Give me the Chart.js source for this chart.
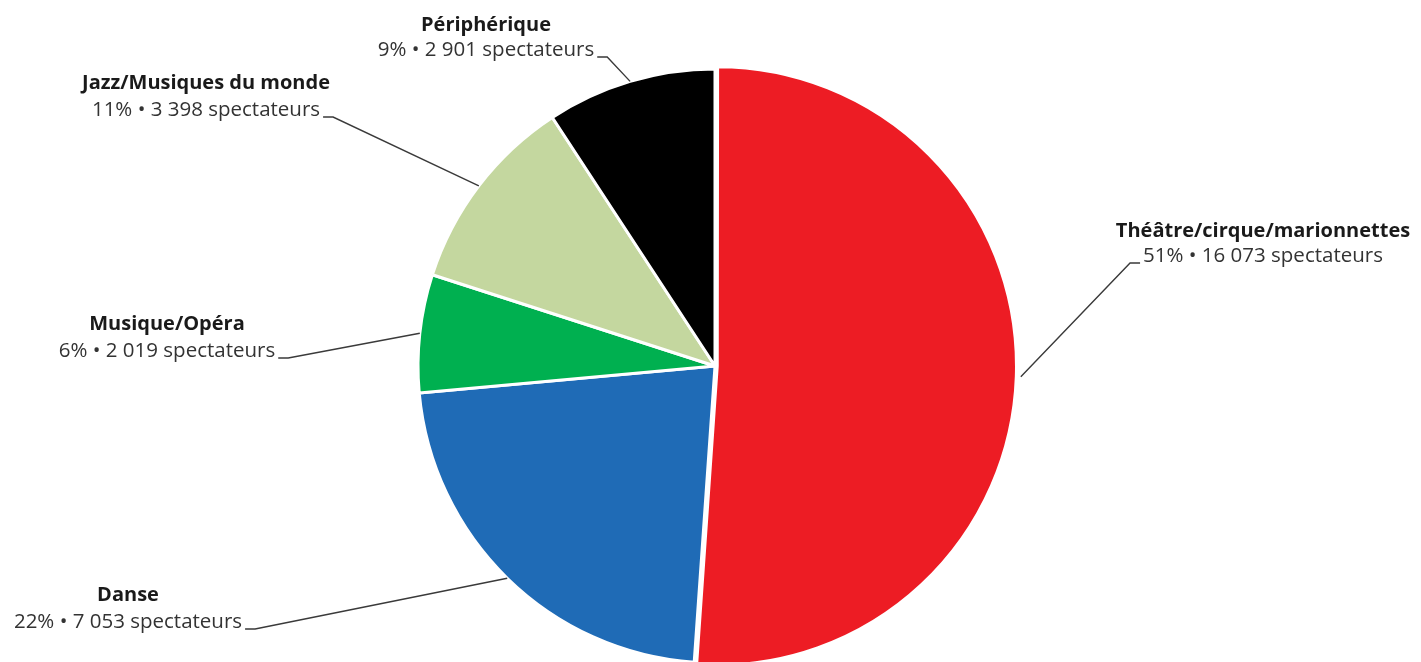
<!DOCTYPE html>
<html lang="fr">
<head>
<meta charset="utf-8">
<script src="https://cdn.jsdelivr.net/npm/chart.js@4.4.1/dist/chart.umd.min.js"></script>
<style>
  html, body { margin: 0; padding: 0; background: #fff; overflow: hidden; }
  #wrap { position: relative; width: 1430px; height: 732px; }
</style>
</head>
<body>
<div id="wrap"><canvas id="chart"></canvas></div>
<script>
// Spectateurs par discipline
const categories = ['Théâtre/cirque/marionnettes', 'Danse', 'Musique/Opéra', 'Jazz/Musiques du monde', 'Périphérique']
const spectateurs = [16073, 7053, 2019, 3398, 2901]
const couleurs = ['#ed1c24', '#1f6bb6', '#00b050', '#c4d79f', '#000000']

// label blocks: centre x, title y, value line y, which end of the value line the leader leaves from
const etiquettes = [
  { x: 1263, y1: 231, y2: 256, end: 'left' },
  { x: 128, y1: 595, y2: 622, end: 'right' },
  { x: 167, y1: 324, y2: 351, end: 'right' },
  { x: 206, y1: 83, y2: 110, end: 'right' },
  { x: 486, y1: 25, y2: 50, end: 'right' },
]

const total = spectateurs.reduce((a, b) => a + b, 0)
const milliers = n => String(n).replace(/\B(?=(\d{3})+(?!\d))/g, ' ')

const FONT = '"Open Sans", "Noto Sans", sans-serif'

const etiquettesPlugin = {
  id: 'etiquettes',
  afterDraw(chart) {
    const ctx = chart.ctx
    const arcs = chart.getDatasetMeta(0).data
    ctx.save()
    ctx.textAlign = 'center'
    ctx.textBaseline = 'middle'
    arcs.forEach((arc, i) => {
      const e = etiquettes[i]
      const { x, y, startAngle, endAngle, outerRadius } = arc.getProps(['x', 'y', 'startAngle', 'endAngle', 'outerRadius'], true)
      const mid = (startAngle + endAngle) / 2
      const off = arc.options.offset || 0
      const ax = x + Math.cos(mid) * (outerRadius + off)
      const ay = y + Math.sin(mid) * (outerRadius + off)

      const pct = Math.round(spectateurs[i] / total * 100)
      const ligne = pct + '% \u2022 ' + milliers(spectateurs[i]) + ' spectateurs'

      ctx.fillStyle = '#1a1a1a'
      ctx.font = 'bold 20px ' + FONT
      ctx.fillText(categories[i], e.x, e.y1)
      ctx.fillStyle = '#333'
      ctx.font = '20.5px ' + FONT
      ctx.fillText(ligne, e.x, e.y2)

      const w = ctx.measureText(ligne).width
      const dir = e.end === 'right' ? 1 : -1
      const sx = e.x + dir * (w / 2 + 3)
      const sy = e.y2 + 7
      ctx.strokeStyle = '#3a3a3a'
      ctx.lineWidth = 1.4
      ctx.beginPath()
      ctx.moveTo(sx, sy)
      ctx.lineTo(sx + dir * 10, sy)
      ctx.lineTo(ax, ay)
      ctx.stroke()
    })
    ctx.restore()
  }
}

new Chart(
  document.getElementById('chart'),
  {
    type: 'pie',
    data: {
      labels: categories,
      datasets: [{
        data: spectateurs,
        backgroundColor: couleurs,
        borderColor: '#ffffff',
        borderWidth: 3,
        offset: [9, 0, 0, 0, 0],
        hoverOffset: 0,
      }]
    },
    options: {
      responsive: true,
      maintainAspectRatio: false,
      animation: false,
      radius: 297,
      layout: { padding: 0 },
      plugins: {
        legend: { display: false },
        tooltip: { enabled: false },
      },
    },
    plugins: [etiquettesPlugin],
  }
)
</script>
</body>
</html>
